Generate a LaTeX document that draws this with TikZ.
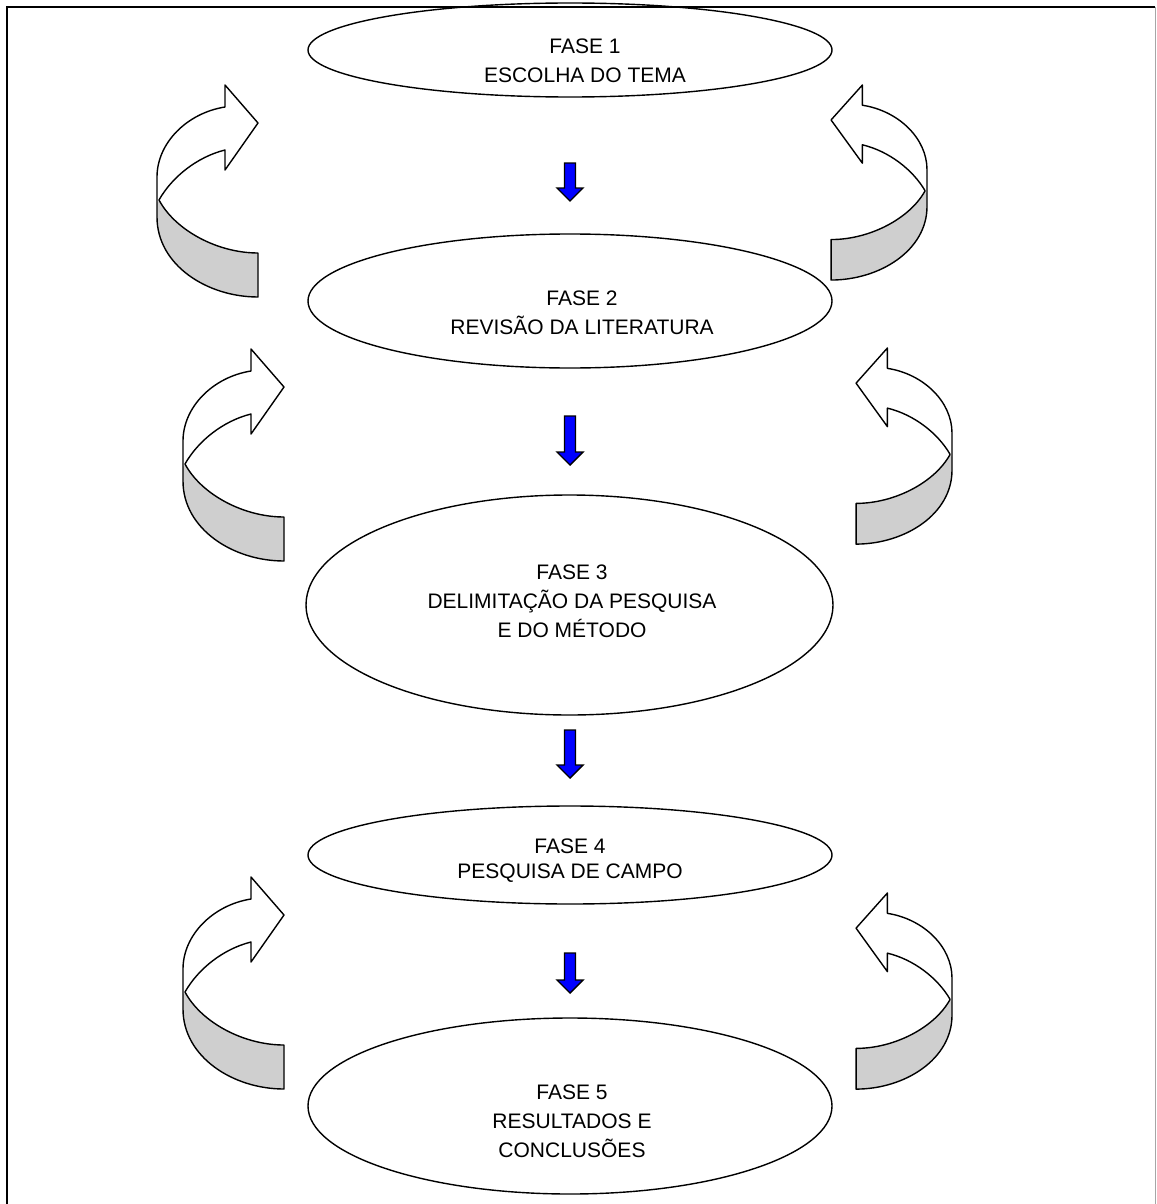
\documentclass[tikz,border=0pt]{standalone}
\usepackage{fontspec}
\setmainfont{Liberation Sans}
\usetikzlibrary{shapes.geometric,calc}

% outline of a ribbon-like feedback arrow, drawn in a 101 x 212 box (y downwards)
\newcommand\loopoutline{(68,22) .. controls (30,28) and (0,58) .. (0,92) -- (0,132)
  .. controls (0,180) and (50,212) .. (101,212) -- (101,168)
  .. controls (60,168) and (18,145) .. (2,115)
  .. controls (15,92) and (40,72) .. (68,65) -- (68,85) -- (101,38) -- (68,0) -- cycle}
% the underside of the ribbon
\newcommand\loopunder{(2,115) .. controls (18,145) and (60,168) .. (101,168) -- (101,212)
  .. controls (50,212) and (0,180) .. (0,132) -- (0,118) -- cycle}
\newcommand\feedbackloop{%
  \fill[white] \loopoutline;
  \fill[loopshade] \loopunder;
  \draw[loopline] \loopoutline;}

% downward block arrow from a tail coordinate to a tip coordinate
\newcommand\flowdown[2]{%
  \draw[flowarrow] ($(#1)+(-5.5,0)$) -- ($(#1)+(5.5,0)$) -- ($(#2)+(5.5,-13)$)
    -- ($(#2)+(13,-13)$) -- (#2) -- ($(#2)+(-13,-13)$) -- ($(#2)+(-5.5,-13)$) -- cycle;}

\begin{document}
\begin{tikzpicture}[x=1pt,y=-1pt,
  phase/.style={draw, ellipse, line width=1.4pt, inner sep=0pt},
  phasetext/.style={align=center, anchor=north, inner sep=0pt,
    font=\fontsize{21}{29}\selectfont},
  flowarrow/.style={draw, fill=blue, line width=1.4pt, line join=miter},
  loopline/.style={draw, line width=1.4pt, line join=round},
  loopshade/.style={fill=black!19}]
\useasboundingbox (0,0) rectangle (1156,1204);

% page frame
\draw[line width=2pt] (7,1210) -- (7,7) -- (1155,7);
\draw[line width=1pt, black!35] (1155,7) -- (1155,1210);

% phases
\node[phase, minimum width=524pt, minimum height=94pt]  (e1) at (570,50) {};
\node[phase, minimum width=524pt, minimum height=134pt] (e2) at (570,301) {};
\node[phase, minimum width=527pt, minimum height=220pt] (e3) at (569.5,605) {};
\node[phase, minimum width=524pt, minimum height=98pt]  (e4) at (570,855) {};
\node[phase, minimum width=524pt, minimum height=176pt] (e5) at (570,1106) {};

\node[phasetext] (t1) at (585,38.5) {FASE 1\\ESCOLHA DO TEMA};
\node[phasetext] (t2) at (582,290.5) {FASE 2\\REVISÃO DA LITERATURA};
\node[phasetext] (t3) at (572,564.5) {FASE 3\\DELIMITAÇÃO DA PESQUISA\\E DO MÉTODO};
\node[phasetext, font=\fontsize{21}{25}\selectfont] (t4) at (570,838.5) {FASE 4\\PESQUISA DE CAMPO};
\node[phasetext] (t5) at (572,1084.5) {FASE 5\\RESULTADOS E\\CONCLUSÕES};

% flow between phases
\coordinate (f1a) at (570,163); \coordinate (f1b) at (570,201);
\coordinate (f2a) at (570,416); \coordinate (f2b) at (570,465);
\coordinate (f3a) at (570,730); \coordinate (f3b) at (570,778);
\coordinate (f4a) at (570,953); \coordinate (f4b) at (570,993);
\flowdown{f1a}{f1b}
\flowdown{f2a}{f2b}
\flowdown{f3a}{f3b}
\flowdown{f4a}{f4b}

% feedback loops, left side
\begin{scope}[shift={(157,85)}]\feedbackloop\end{scope}
\begin{scope}[shift={(183,349)}]\feedbackloop\end{scope}
\begin{scope}[shift={(183,877)}]\feedbackloop\end{scope}

% feedback loops, right side
\begin{scope}[shift={(927,85)}, xscale=-0.95, yscale=0.92]\feedbackloop\end{scope}
\begin{scope}[shift={(952,348)}, xscale=-0.95, yscale=0.925]\feedbackloop\end{scope}
\begin{scope}[shift={(952,893)}, xscale=-0.95, yscale=0.925]\feedbackloop\end{scope}
\end{tikzpicture}
\end{document}
